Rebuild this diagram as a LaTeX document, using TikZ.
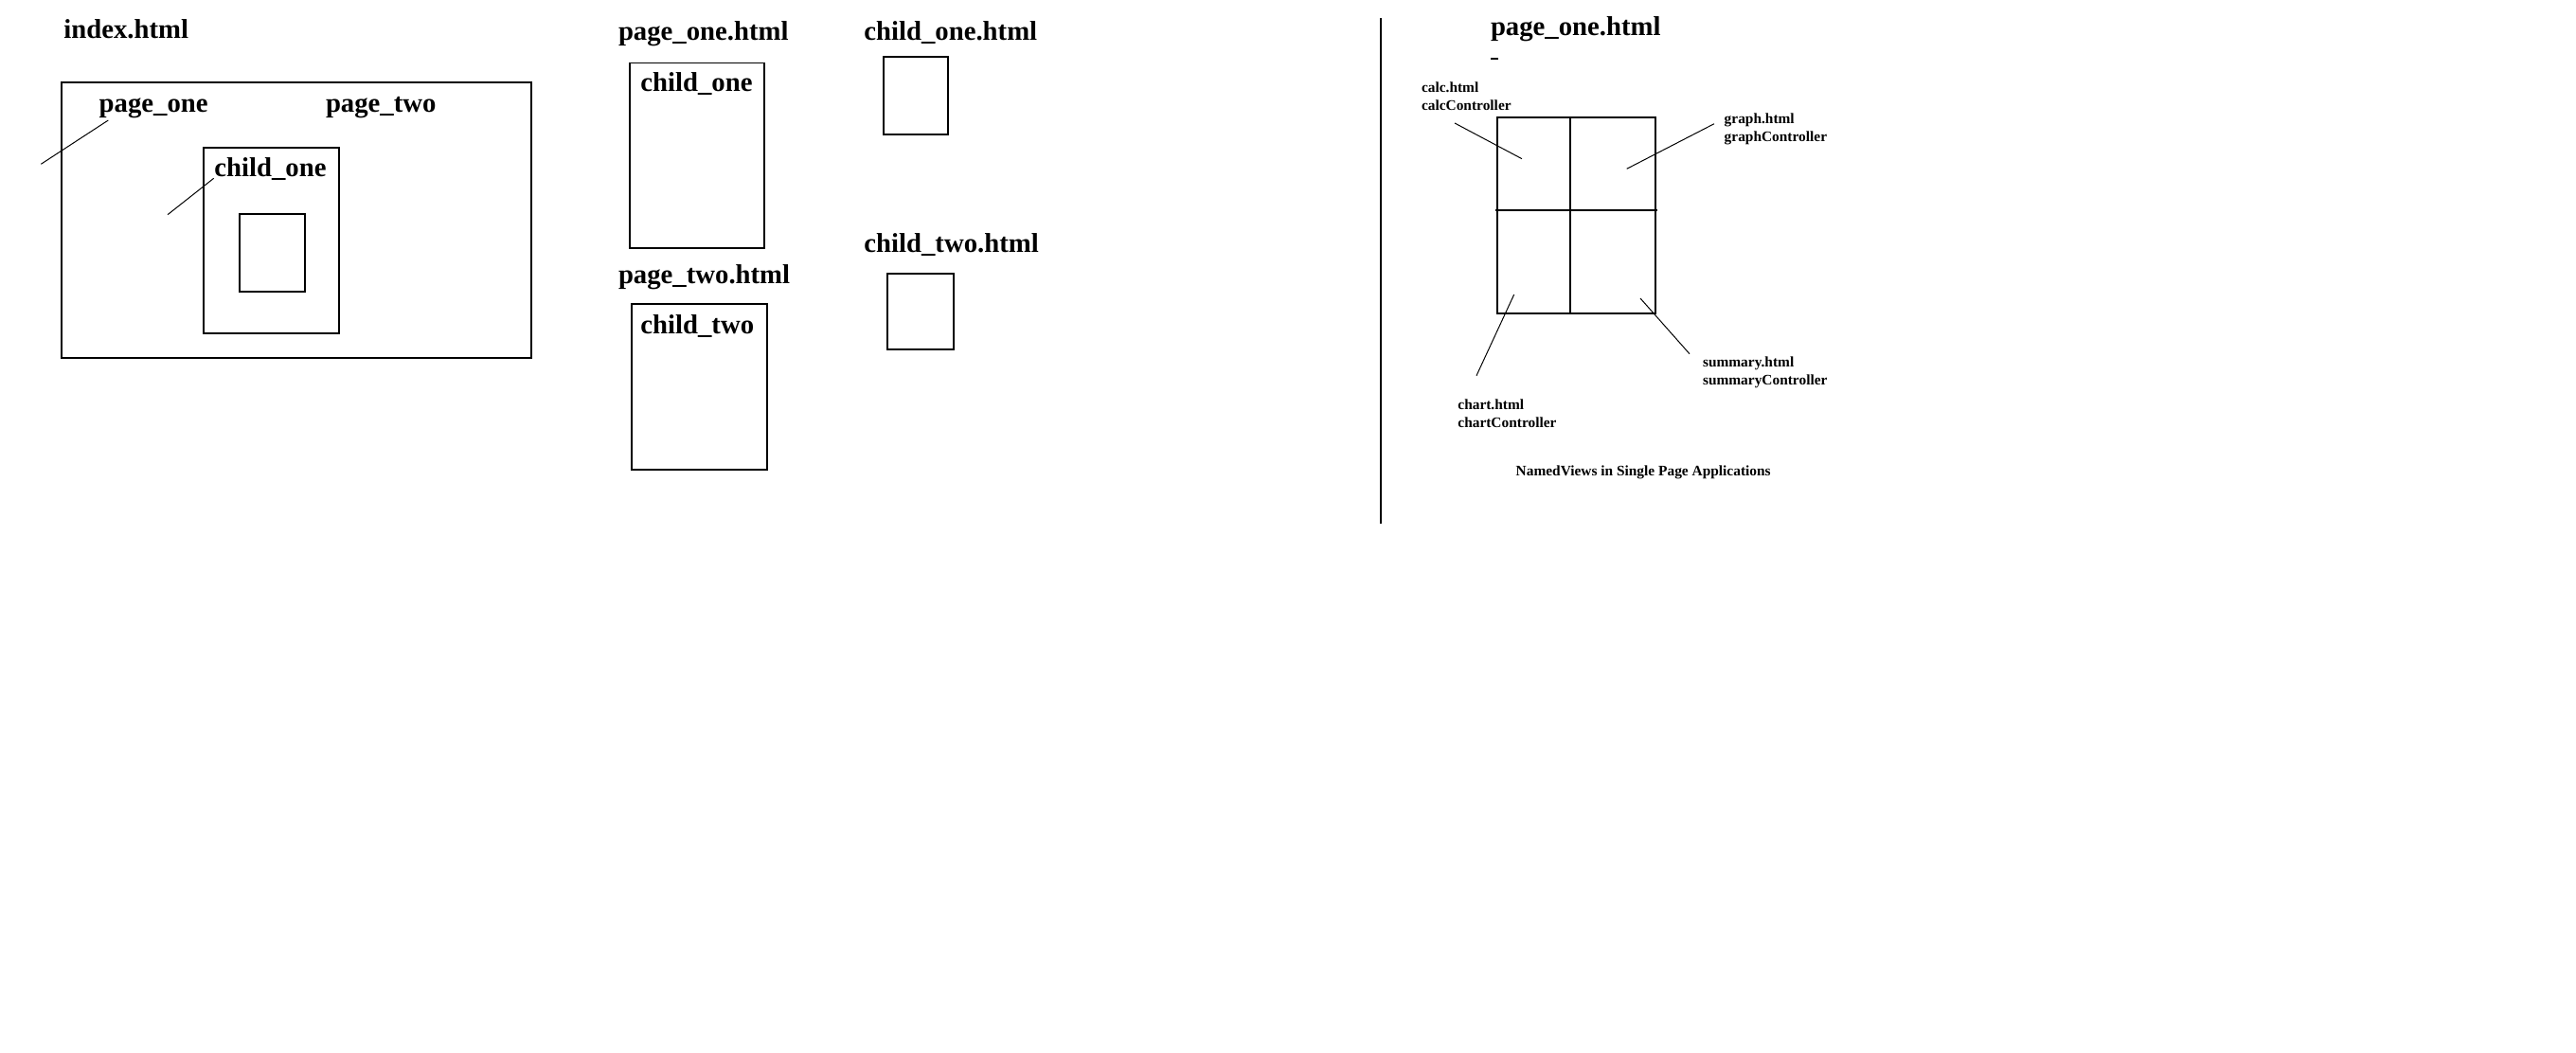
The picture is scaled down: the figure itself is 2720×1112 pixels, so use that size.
\documentclass[tikz,border=0pt]{standalone}
\usepackage{fontspec}
\setmainfont{Liberation Serif}

\begin{document}
\begin{tikzpicture}[x=0.01cm,y=-0.01cm,frame/.style={draw, line width=0.5pt, inner sep=0pt, anchor=north west},
     lbl/.style={anchor=base west, inner sep=0pt, font=\bfseries\fontsize{8.17}{9.8}\selectfont},
     tiny/.style={anchor=base west, inner sep=0pt, align=left, font=\bfseries\fontsize{4.38}{5.32}\selectfont},
     lead/.style={line width=0.28pt}]
     \useasboundingbox (0,0) rectangle (2720,1112);
     % index.html with nested views
     \node (index) [lbl] at (66.7,40.7) {index.html};
     \node (main) [frame, minimum width=4.954cm, minimum height=2.904cm] at (64.3,86.3) {};
     \node (pone) [lbl] at (104,118.3) {page\_one};\node (ptwo) [lbl] at (343.3,118.3) {page\_two};
     \node (cbox) [frame, minimum width=1.424cm, minimum height=1.96cm] at (214.3,155.3) {};
     \node (cone) [lbl] at (225.7,186) {child\_one};
     \node (inner) [frame, minimum width=0.684cm, minimum height=0.82cm] at (252.3,225.3) {};
     \coordinate (pa) at (114.3,127);\coordinate (pb) at (43.3,173.3);\coordinate (ca) at (225.7,188.3);\coordinate (cb) at (177,226.7);
     \draw [lead] (pa) -- (pb);\draw [lead] (ca) -- (cb);
     % pages and children
     \node (poneh) [lbl] at (652.3,42.7) {page\_one.html};\node (coneh) [lbl] at (911.7,42.7) {child\_one.html};
     \node (pgone) [frame, minimum width=1.42cm, minimum height=1.956cm] at (664.3,65.7) {};
     \node (cin1) [lbl] at (675.7,96.7) {child\_one};
     \node (chone) [frame, minimum width=0.68cm, minimum height=0.82cm] at (932.3,59.3) {};
     \node (ptwoh) [lbl] at (652.3,299) {page\_two.html};\node (ctwoh) [lbl] at (911.7,266) {child\_two.html};
     \node (pgtwo) [frame, minimum width=1.424cm, minimum height=1.75cm] at (666.3,320.3) {};
     \node (cin2) [lbl] at (675.7,352.7) {child\_two};
     \node (chtwo) [frame, minimum width=0.694cm, minimum height=0.80cm] at (936.3,288.3) {};
     % separator
     \coordinate (st) at (1458.3,19);\coordinate (sb) at (1458.3,552.7);
     \draw [line width=0.55pt] (st) -- (sb);
     % named views
     \node (spa) [lbl] at (1573.3,37.3) {page\_one.html};
     \coordinate (da) at (1574.3,62.3);\coordinate (db) at (1582.3,62.3);\draw [line width=0.6pt] (da) -- (db);
     \node (views) [frame, minimum width=1.67cm, minimum height=2.07cm] at (1580.3,123.3) {};
     \draw [line width=0.5pt] (1658.3,123.3) -- (1658.3,330.3);\draw [line width=0.45pt] (1579.3,222) -- (1750,222);
     \node (calc) [tiny] at (1500.3,116) {calc.html\\calcController};
     \node (graph) [tiny] at (1820,149.3) {graph.html\\graphController};
     \node (chart) [tiny] at (1538.7,451) {chart.html\\chartController};
     \node (summ) [tiny] at (1797.3,406) {summary.html\\summaryController};
     \coordinate (c1) at (1536,130);\coordinate (c2) at (1607,167.7);\coordinate (g1) at (1810,130.7);\coordinate (g2) at (1717.7,178.3);
     \coordinate (h1) at (1598.7,311);\coordinate (h2) at (1559,396.7);\coordinate (s1) at (1732,315);\coordinate (s2) at (1784,373.7);
     \draw [lead] (c1) -- (c2);\draw [lead] (g1) -- (g2);\draw [lead] (h1) -- (h2);\draw [lead] (s1) -- (s2);
     \node (caption) [tiny] at (1600,502.3) {NamedViews in Single Page Applications};
\end{tikzpicture}
\end{document}
